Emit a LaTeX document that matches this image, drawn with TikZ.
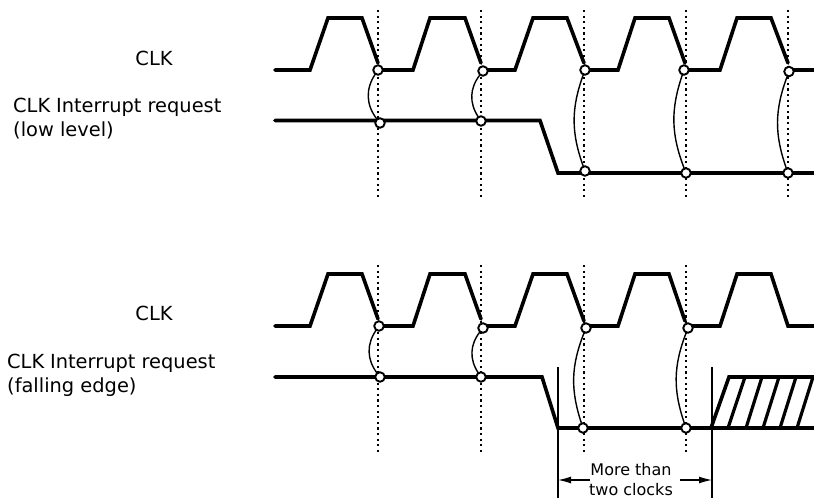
\documentclass[tikz,border=0pt]{standalone}
\usepackage{fontspec}
\setmainfont{DejaVu Sans}
\usetikzlibrary{arrows.meta}
\tikzset{
 x=1pt,y=-1pt,
 sig/.style={line width=3.6pt,line join=miter,line cap=round},
 hatchl/.style={line width=3.2pt},
 dotl/.style={line width=2.2pt,dash pattern=on 2.2pt off 3.4pt},
 pin/.style={circle,draw,fill=white,line width=1.9pt,inner sep=0pt,minimum size=9.5pt},
 link/.style={line width=1.4pt,shorten >=-1pt,shorten <=-1pt},
 dim/.style={line width=1.3pt},
 lab/.style={font=\fontsize{19.4}{22}\selectfont,inner sep=0pt,align=left},
 ar/.style={line width=1.3pt,-{Latex[length=13pt,width=7pt]}}
}
\begin{document}
\begin{tikzpicture}
\useasboundingbox (0,0) rectangle (814,499);
% dotted guides, top
\foreach \n/\x in {1/378,2/481,3/584,4/686,5/788}{
 \coordinate (dt\n) at (\x,10); \coordinate (db\n) at (\x,199);
 \draw[dotl] (dt\n) -- (db\n);
}
% dotted guides, bottom
\foreach \n/\x in {1/378,2/481,3/584,4/686}{
 \coordinate (et\n) at (\x,265); \coordinate (eb\n) at (\x,455);
 \draw[dotl] (et\n) -- (eb\n);
}
% top clock
\draw[sig] (275,70) -- (310,70) -- (328,18) -- (362,18) -- (378,63) (378,70) -- (413,70) -- (430,18) -- (465,18) -- (481,63)
 (481,70) -- (515,70) -- (533,18) -- (567,18) -- (584,63) (584,70) -- (618,70) -- (635,18) -- (669,18) -- (685,63) (685,70) -- (720,70) -- (737,18) -- (771,18) -- (788,63) (788,70) -- (814,70);
% top request
\draw[sig] (275,120.5) -- (540,120.5) -- (558,173) -- (814,173);
% bottom clock
\draw[sig] (275,326) -- (310,326) -- (328,274) -- (362,274) -- (378,319) (378,326) -- (413,326) -- (430,274) -- (465,274) -- (481,319)
 (481,326) -- (515,326) -- (533,274) -- (567,274) -- (584,321) (584,326) -- (618,326) -- (635,274) -- (669,274) -- (685,321) (685,326) -- (720,326) -- (737,274) -- (771,274) -- (788,326) -- (814,326);
% bottom request
\draw[sig] (275,377) -- (542,377) -- (558,428) -- (814,428);
\draw[sig,line cap=butt] (711,428) -- (729,377) -- (814,377);
\foreach \a/\b in {728/745,746/762,763/779,780/796,797/813}{
 \draw[hatchl] (\a,428) -- (\b,377);
}
% pins
\foreach \n/\x/\y in {1/378/70,2/483/71,3/585/70,4/684/70,5/789/71.5}{\node[pin] (a\n) at (\x,\y) {};}
\foreach \n/\x/\y in {1/380/123,2/481/121,3/585/171,4/686/173,5/788/173}{\node[pin] (b\n) at (\x,\y) {};}
\foreach \n/\x/\y in {1/379/326,2/483/328,3/586/328,4/688/328}{\node[pin] (c\n) at (\x,\y) {};}
\foreach \n/\x/\y in {1/380/377,2/481/377,3/583/428,4/686/428}{\node[pin] (d\n) at (\x,\y) {};}
% links
\draw[link] (a1) to[bend right=36] (b1);
\draw[link] (a2) to[bend right=36] (b2);
\draw[link] (a3) to[bend right=20] (b3);
\draw[link] (a4) to[bend right=20] (b4);
\draw[link] (a5) to[bend right=20] (b5);
\draw[link] (c1) to[bend right=36] (d1);
\draw[link] (c2) to[bend right=36] (d2);
\draw[link] (c3) to[bend right=20] (d3);
\draw[link] (c4) to[bend right=20] (d4);
% dimension
\coordinate (m1) at (558,367); \coordinate (m2) at (558,498);
\coordinate (n1) at (712,367); \coordinate (n2) at (712,498);
\draw[dim] (m1) -- (m2);
\draw[dim] (n1) -- (n2);
\node[lab,align=center,font=\fontsize{16}{20.5}\selectfont] (t) at (631,479.5) {More than\\two clocks};
\coordinate (ma) at (558,480); \coordinate (na) at (712,480);
\draw[ar] (590,480) coordinate (tl) -- (ma);
\draw[ar] (680,480) coordinate (tr) -- (na);
% labels
\node[lab] (l1) at (154,58) {CLK};
\node[lab,anchor=base west] (l2) at (13,112.5) {CLK\hspace{0.3em}Interrupt request};
\node[lab,anchor=base west] (l3) at (13,136.5) {(low level)};
\node[lab] (l4) at (154,313) {CLK};
\node[lab,anchor=base west] (l5) at (7,368) {CLK\hspace{0.3em}Interrupt request};
\node[lab,anchor=base west] (l6) at (7,392) {(falling edge)};
\end{tikzpicture}
\end{document}
